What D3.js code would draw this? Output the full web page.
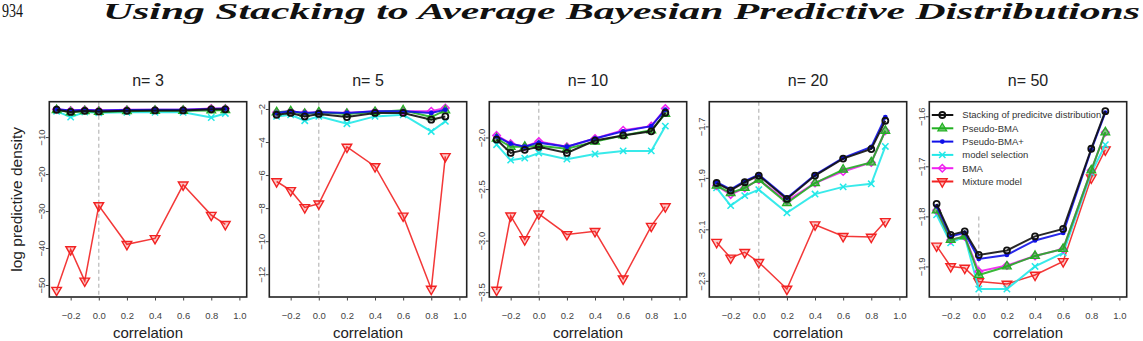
<!DOCTYPE html>
<html>
<head>
<meta charset="utf-8">
<script src="https://cdn.jsdelivr.net/npm/d3@7"></script>
<style>
  body { margin: 0; background: #ffffff; }
  svg { display: block; }
</style>
</head>
<body>
<svg id="chart" width="1143" height="341"></svg>
<script>
// x values shared by every panel
var correlation = [-0.3, -0.2, -0.1, 0.0, 0.2, 0.4, 0.6, 0.8, 0.9];
var panelTitles = ['n= 3', 'n= 5', 'n= 10', 'n= 20', 'n= 50'];
var xTicks = [-0.2, 0.0, 0.2, 0.4, 0.6, 0.8, 1.0];
var yTicks = [
  [-10, -20, -30, -40, -50],
  [-2, -4, -6, -8, -10, -12],
  [-2.0, -2.5, -3.0, -3.5],
  [-1.7, -1.9, -2.1, -2.3],
  [-1.6, -1.7, -1.8, -1.9]
];
var yTickDigits = [0, 0, 1, 1, 1];
var yLimits = [
  [-53.25, -0.43],
  [-13.38, -1.56],
  [-3.547, -1.653],
  [-2.363, -1.604],
  [-1.961, -1.571]
];
var legendLabels = ['Stacking of predicitve distribution', 'Pseudo-BMA', 'Pseudo-BMA+',
  'model selection', 'BMA', 'Mixture model'];

// one row per panel (n = 3, 5, 10, 20, 50)
var stacking = [
  [-2.6, -3.2, -2.9, -3.1, -2.9, -2.8, -2.8, -2.5, -2.5],
  [-2.35, -2.24, -2.45, -2.30, -2.49, -2.24, -2.24, -2.65, -2.45],
  [-2.02, -2.15, -2.12, -2.09, -2.15, -2.03, -1.98, -1.94, -1.76],
  [-1.920, -1.949, -1.917, -1.891, -1.982, -1.891, -1.825, -1.788, -1.678],
  [-1.775, -1.837, -1.830, -1.877, -1.868, -1.840, -1.825, -1.665, -1.590]
];
var pseudoBMA = [
  [-2.7, -3.3, -3.0, -3.2, -3.0, -2.9, -2.9, -2.8, -2.7],
  [-2.20, -2.14, -2.30, -2.20, -2.30, -2.18, -2.08, -2.49, -2.08],
  [-2.01, -2.09, -2.09, -2.08, -2.11, -2.04, -1.98, -1.93, -1.77],
  [-1.930, -1.959, -1.939, -1.907, -1.998, -1.920, -1.868, -1.840, -1.717],
  [-1.788, -1.847, -1.840, -1.917, -1.900, -1.879, -1.865, -1.708, -1.632]
];
var pseudoBMAplus = [
  [-2.5, -2.8, -2.7, -2.8, -2.7, -2.6, -2.6, -2.4, -2.3],
  [-2.24, -2.14, -2.24, -2.20, -2.24, -2.14, -2.14, -2.24, -2.04],
  [-1.99, -2.06, -2.09, -2.05, -2.09, -2.01, -1.94, -1.89, -1.73],
  [-1.917, -1.945, -1.913, -1.888, -1.978, -1.888, -1.822, -1.780, -1.664],
  [-1.780, -1.840, -1.833, -1.885, -1.877, -1.848, -1.833, -1.667, -1.593]
];
var modelSelection = [
  [-3.0, -4.6, -3.2, -3.4, -3.3, -3.3, -3.3, -4.7, -3.6],
  [-2.45, -2.35, -2.71, -2.45, -2.89, -2.45, -2.35, -3.36, -2.75],
  [-2.07, -2.22, -2.20, -2.15, -2.21, -2.16, -2.13, -2.13, -1.89],
  [-1.939, -2.008, -1.969, -1.946, -2.036, -1.963, -1.935, -1.923, -1.778],
  [-1.797, -1.853, -1.840, -1.945, -1.945, -1.900, -1.873, -1.713, -1.657]
];
var bma = [
  [-2.5, -2.8, -2.6, -2.8, -2.6, -2.6, -2.6, -2.3, -2.3],
  [-2.20, -2.14, -2.24, -2.20, -2.24, -2.14, -2.14, -2.14, -1.94],
  [-1.98, -2.06, -2.09, -2.04, -2.09, -2.01, -1.93, -1.89, -1.72],
  [-1.930, -1.965, -1.939, -1.907, -1.990, -1.920, -1.875, -1.840, -1.717],
  [-1.788, -1.847, -1.840, -1.910, -1.898, -1.879, -1.865, -1.708, -1.632]
];
var mixture = [
  [-51.4, -40.4, -48.9, -28.5, -39.0, -37.4, -22.9, -31.1, -33.6],
  [-6.39, -6.93, -7.96, -7.74, -4.30, -5.48, -8.47, -12.9, -4.87],
  [-3.48, -2.76, -2.99, -2.74, -2.94, -2.91, -3.37, -2.86, -2.67],
  [-2.150, -2.211, -2.189, -2.228, -2.332, -2.082, -2.127, -2.130, -2.069],
  [-1.859, -1.900, -1.903, -1.930, -1.935, -1.917, -1.890, -1.723, -1.667]
];

var svg = d3.select('#chart');
var font = '"Liberation Sans", Arial, sans-serif';

var panelLeft = 49.3;
var panelStep = 220;
var panelTop = 101.7;
var panelW = 197.4;
var panelH = 195.3;

// legend order; drawing order is reversed further down
var series = [
  { values: stacking, color: '#111111', marker: 'circle' },
  { values: pseudoBMA, color: '#22b022', marker: 'triangle' },
  { values: pseudoBMAplus, color: '#1010e8', marker: 'dot' },
  { values: modelSelection, color: '#22e8e8', marker: 'cross' },
  { values: bma, color: '#f020f0', marker: 'diamond' },
  { values: mixture, color: '#f22222', marker: 'down' }
];
var drawOrder = [5, 3, 4, 1, 2, 0];

svg.append('rect')
  .attr('width', 1143)
  .attr('height', 341)
  .style('fill', '#ffffff');

svg.append('text')
  .attr('x', 2)
  .attr('y', 17)
  .attr('textLength', 21)
  .attr('lengthAdjust', 'spacingAndGlyphs')
  .style('font-family', '"Liberation Serif", "DejaVu Serif", serif')
  .style('font-size', '19px')
  .style('fill', '#111111')
  .text('934');

svg.append('text')
  .attr('x', 103)
  .attr('y', 19)
  .attr('textLength', 1037)
  .attr('lengthAdjust', 'spacingAndGlyphs')
  .style('font-family', '"Liberation Serif", "DejaVu Serif", serif')
  .style('font-size', '23px')
  .style('font-weight', 'bold')
  .style('font-style', 'italic')
  .style('fill', '#111111')
  .text('Using Stacking to Average Bayesian Predictive Distributions');

svg.append('text')
  .attr('transform', 'translate(21.5,' + (panelTop + panelH / 2) + ') rotate(-90)')
  .style('text-anchor', 'middle')
  .style('font-family', font)
  .style('font-size', '15.5px')
  .style('fill', '#222222')
  .text('log predictive density');

function drawMarker(sel, type, color) {
  if (type === 'circle') {
    sel.append('circle').attr('r', 3)
      .style('fill', 'none').style('stroke', color).style('stroke-width', 1.8);
  } else if (type === 'dot') {
    sel.append('circle').attr('r', 2.4).style('fill', color);
  } else if (type === 'triangle') {
    sel.append('path').attr('d', d3.symbol(d3.symbolTriangle, 34)())
      .style('fill', color).style('fill-opacity', 0.6)
      .style('stroke', color).style('stroke-width', 1.2);
  } else if (type === 'cross') {
    sel.append('path').attr('d', d3.symbol(d3.symbolX, 28)())
      .style('fill', 'none').style('stroke', color).style('stroke-width', 1.5);
  } else if (type === 'diamond') {
    sel.append('path').attr('d', d3.symbol(d3.symbolDiamond2, 36)())
      .style('fill', 'none').style('stroke', color).style('stroke-width', 1.5);
  } else if (type === 'down') {
    sel.append('path').attr('d', d3.symbol(d3.symbolTriangle, 40)())
      .attr('transform', 'rotate(180)')
      .style('fill', color).style('fill-opacity', 0.25)
      .style('stroke', color).style('stroke-width', 1.4);
  }
}

var x = d3.scaleLinear().domain([-0.352, 1.052]).range([0, panelW]);

panelTitles.forEach(function(title, p) {
  var g = svg.append('g')
    .attr('class', 'panel')
    .attr('transform', 'translate(' + (panelLeft + p * panelStep) + ',' + panelTop + ')');

  var y = d3.scaleLinear().domain(yLimits[p]).range([panelH, 0]);

  // dashed reference line at zero correlation (legend sits over it in the last panel)
  var refTop = p === 4 ? y(-1.8) : 0;
  g.append('line')
    .attr('x1', x(0))
    .attr('x2', x(0))
    .attr('y1', refTop)
    .attr('y2', panelH)
    .style('stroke', '#b8b8b8')
    .style('stroke-width', 1.2)
    .style('stroke-dasharray', '4,3');

  var line = d3.line()
    .x(function(d, i) { return x(correlation[i]); })
    .y(function(d) { return y(d); });

  drawOrder.forEach(function(k) {
    var s = series[k];
    g.append('path')
      .datum(s.values[p])
      .attr('d', line)
      .style('fill', 'none')
      .style('stroke', s.color)
      .style('stroke-width', k === 5 ? 1.5 : 2)
      .style('stroke-opacity', 0.9);

    g.selectAll('.pt-' + k)
      .data(s.values[p])
      .enter()
      .append('g')
      .attr('class', 'pt-' + k)
      .attr('transform', function(d, i) {
        return 'translate(' + x(correlation[i]) + ',' + y(d) + ')';
      })
      .each(function() {
        drawMarker(d3.select(this), s.marker, s.color);
      });
  });

  g.append('rect')
    .attr('width', panelW)
    .attr('height', panelH)
    .style('fill', 'none')
    .style('stroke', '#222222')
    .style('stroke-width', 1.6);

  var xAxis = g.append('g')
    .attr('transform', 'translate(0,' + panelH + ')')
    .call(d3.axisBottom(x).tickValues(xTicks).tickSize(3.5).tickPadding(0).tickFormat(d3.format('.1f')));
  xAxis.select('.domain').remove();
  xAxis.selectAll('line').style('stroke', '#444444');
  xAxis.selectAll('text')
    .attr('y', 0)
    .attr('dy', 22)
    .style('font-family', font)
    .style('font-size', '9.5px')
    .style('fill', '#444444');

  var yAxis = g.append('g')
    .call(d3.axisLeft(y).tickValues(yTicks[p]).tickSize(3.5)
      .tickFormat(d3.format('.' + yTickDigits[p] + 'f')));
  yAxis.select('.domain').remove();
  yAxis.selectAll('line').style('stroke', '#444444');
  yAxis.selectAll('text')
    .attr('x', 0)
    .attr('dy', null)
    .attr('transform', 'translate(-4.5,0) rotate(-90)')
    .style('text-anchor', 'middle')
    .style('font-family', font)
    .style('font-size', '9.5px')
    .style('fill', '#444444');

  g.append('text')
    .attr('x', panelW / 2)
    .attr('y', -16)
    .style('text-anchor', 'middle')
    .style('font-family', font)
    .style('font-size', '16px')
    .style('fill', '#222222')
    .text(title);

  g.append('text')
    .attr('x', panelW / 2)
    .attr('y', panelH + 41)
    .style('text-anchor', 'middle')
    .style('font-family', font)
    .style('font-size', '15px')
    .style('fill', '#222222')
    .text('correlation');

  if (p === 4) {
    var legend = g.selectAll('.legend-row')
      .data(series)
      .enter()
      .append('g')
      .attr('class', 'legend-row')
      .attr('transform', function(d, i) {
        return 'translate(0,' + (13.3 + i * 13.3) + ')';
      });

    legend.append('line')
      .attr('x1', 2.5)
      .attr('x2', 24)
      .style('stroke', function(d) { return d.color; })
      .style('stroke-width', 2);

    legend.each(function(d) {
      var m = d3.select(this).append('g').attr('transform', 'translate(13,0)');
      drawMarker(m, d.marker, d.color);
    });

    legend.append('text')
      .attr('x', 33)
      .attr('dy', '0.35em')
      .style('font-family', font)
      .style('font-size', '9.5px')
      .style('fill', '#333333')
      .text(function(d, i) { return legendLabels[i]; });
  }
});
</script>
</body>
</html>
